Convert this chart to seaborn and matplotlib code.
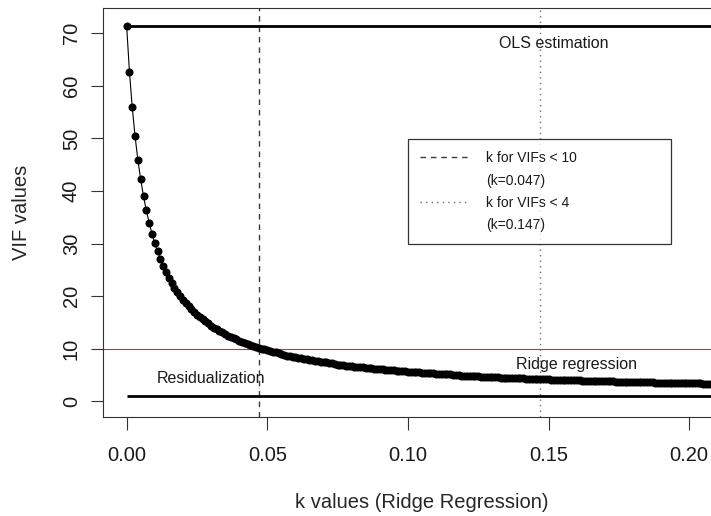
import numpy as np
import matplotlib
matplotlib.use("Agg")
import matplotlib.pyplot as plt
from matplotlib.lines import Line2D
import seaborn as sns

# ridge trace: k grid (step 0.001) and VIF
k_values = np.round(np.arange(211) * 0.001, 3)
vif_values = [
    71.45, 62.7, 55.9, 50.4, 45.9, 42.2, 39.0, 36.3, 34.0, 31.9,
    30.1, 28.5, 27.1, 25.8, 24.6, 23.5, 22.5, 21.6, 20.8, 20.1,
    19.3, 18.7, 18.1, 17.5, 17.0, 16.5, 16.0, 15.6, 15.2, 14.8,
    14.4, 14.0, 13.7, 13.4, 13.1, 12.8, 12.5, 12.3, 12.0, 11.8,
    11.5, 11.3, 11.1, 10.9, 10.7, 10.5, 10.4, 10.2, 10.0, 9.9,
    9.7, 9.5, 9.4, 9.3, 9.1, 9.0, 8.9, 8.7, 8.6, 8.5,
    8.4, 8.3, 8.2, 8.1, 8.0, 7.9, 7.8, 7.7, 7.6, 7.5,
    7.4, 7.4, 7.3, 7.2, 7.1, 7.0, 7.0, 6.9, 6.8, 6.8,
    6.7, 6.6, 6.6, 6.5, 6.5, 6.4, 6.3, 6.3, 6.2, 6.2,
    6.1, 6.1, 6.0, 6.0, 5.9, 5.9, 5.8, 5.8, 5.7, 5.7,
    5.6, 5.6, 5.5, 5.5, 5.5, 5.4, 5.4, 5.4, 5.3, 5.3,
    5.2, 5.2, 5.2, 5.1, 5.1, 5.1, 5.0, 5.0, 5.0, 4.9,
    4.9, 4.9, 4.8, 4.8, 4.8, 4.8, 4.7, 4.7, 4.7, 4.6,
    4.6, 4.6, 4.6, 4.5, 4.5, 4.5, 4.5, 4.4, 4.4, 4.4,
    4.4, 4.4, 4.3, 4.3, 4.3, 4.3, 4.2, 4.2, 4.2, 4.2,
    4.2, 4.1, 4.1, 4.1, 4.1, 4.1, 4.0, 4.0, 4.0, 4.0,
    4.0, 4.0, 3.9, 3.9, 3.9, 3.9, 3.9, 3.9, 3.8, 3.8,
    3.8, 3.8, 3.8, 3.8, 3.7, 3.7, 3.7, 3.7, 3.7, 3.7,
    3.7, 3.6, 3.6, 3.6, 3.6, 3.6, 3.6, 3.6, 3.5, 3.5,
    3.5, 3.5, 3.5, 3.5, 3.5, 3.5, 3.4, 3.4, 3.4, 3.4,
    3.4, 3.4, 3.4, 3.4, 3.4, 3.3, 3.3, 3.3, 3.3, 3.3,
    3.3,
]
ols_vif = 71.45
residual_vif = 1.0
vif_threshold = 10
k_vif10 = 0.047
k_vif4 = 0.147

x_ticks = [0.00, 0.05, 0.10, 0.15, 0.20]
y_ticks = [0, 10, 20, 30, 40, 50, 60, 70]

sns.set_theme(style="white")
plt.rcParams['font.family'] = ['Liberation Sans', 'DejaVu Sans']
plt.rcParams['text.color'] = '#1a1a1a'

fig = plt.figure(figsize=(7.11, 5.16), dpi=100)
# box runs past the right edge of the picture, as in the reference
ax = fig.add_axes([103 / 711, 1 - 416.7 / 516, 638 / 711, 408.4 / 516])

ax.axhline(vif_threshold, color='#d03030', linewidth=0.8, zorder=1)
ax.axvline(k_vif10, color='#3a3a3a', linewidth=1.0, linestyle=(0, (4, 3.5)), zorder=1)
ax.axvline(k_vif4, color='#707070', linewidth=1.0, linestyle=(0, (1, 3)), zorder=1)

ax.hlines(ols_vif, k_values[0], k_values[-1], color='black', linewidth=2.0, zorder=2)
ax.hlines(residual_vif, k_values[0], k_values[-1], color='black', linewidth=2.0, zorder=2)

sns.lineplot(x=k_values, y=vif_values, ax=ax, color='black', linewidth=0.8,
             marker='o', markersize=5.8, markeredgewidth=0, zorder=3)

ax.text(0.152, 67.2, "OLS estimation", ha='center', va='baseline', fontsize=11.5)
ax.text(0.16, 6.1, "Ridge regression", ha='center', va='baseline', fontsize=11.5)
ax.text(0.03, 3.4, "Residualization", ha='center', va='baseline', fontsize=11.5)

handles = [
    Line2D([], [], color='#3a3a3a', linewidth=1.0, linestyle=(0, (4, 3.5))),
    Line2D([], [], color='none'),
    Line2D([], [], color='#707070', linewidth=1.0, linestyle=(0, (1, 3))),
    Line2D([], [], color='none'),
]
labels = ["k for VIFs < 10", "(k=0.047)", "k for VIFs < 4", "(k=0.147)"]
leg = ax.legend(handles, labels, loc='upper left', bbox_to_anchor=(0.478, 0.679, 0.413, 0.0),
                mode='expand', fontsize=10, frameon=True, fancybox=False,
                borderpad=0.85, labelspacing=0.6, handlelength=3.4, handletextpad=1.4,
                borderaxespad=0)
leg.get_frame().set_edgecolor('black')
leg.get_frame().set_linewidth(0.9)

ax.set_xlim(-0.0084, 0.2184)
ax.set_ylim(-2.93, 74.76)
ax.set_xticks(x_ticks)
ax.set_xticklabels(["{:.2f}".format(t) for t in x_ticks])
ax.set_yticks(y_ticks)
ax.set_yticklabels([str(t) for t in y_ticks], rotation=90, va='center')
ax.tick_params(axis='both', which='major', direction='out', length=9, width=0.8,
               color='#333333', labelsize=14.5, labelcolor='#1a1a1a', bottom=True, left=True)
ax.tick_params(axis='x', pad=12)
ax.tick_params(axis='y', pad=7)
for side in ['left', 'right', 'top', 'bottom']:
    ax.spines[side].set_color('#333333')
    ax.spines[side].set_linewidth(0.8)

ax.set_xlabel("k values (Ridge Regression)", fontsize=14.5, labelpad=20)
ax.set_ylabel("VIF values", fontsize=14.5, labelpad=22)

fig.savefig("out.png", dpi=100, facecolor='white')
